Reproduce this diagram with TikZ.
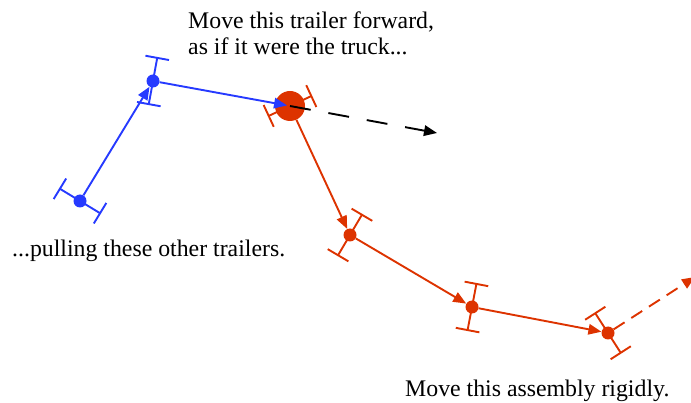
\documentclass[tikz,border=0pt]{standalone}
\usepackage{fontspec}
\setmainfont{Liberation Serif}
\usetikzlibrary{calc,arrows.meta}
\definecolor{tblue}{RGB}{38,58,255}
\definecolor{tred}{RGB}{221,51,0}
\newcommand{\trailaxle}[3]{%
  \draw[axle,#1] ($(#2)!23.5pt!90:(#3)$) -- ($(#2)!23.5pt!-90:(#3)$);
  \draw[axle,#1] ($(#2)!26.39pt!62.95:(#3)$) -- ($(#2)!26.39pt!117.05:(#3)$);
  \draw[axle,#1] ($(#2)!26.39pt!-62.95:(#3)$) -- ($(#2)!26.39pt!-117.05:(#3)$);
}
\begin{document}
\begin{tikzpicture}[x=1pt,y=-1pt,
  font=\fontsize{23.8}{27}\selectfont,
  dot/.style={circle, inner sep=0pt, minimum size=13pt, fill},
  link/.style={line width=1.9pt, -{Triangle[length=13pt,width=10.5pt]}},
  axle/.style={line width=1.9pt},
  lbl/.style={anchor=base west, inner sep=0pt}]
\useasboundingbox (0,0) rectangle (691,403);
\node[dot,tblue] (A) at (80,201) {};
\node[dot,tblue] (B) at (153,81) {};
\node[dot,tred,minimum size=30pt] (C) at (290,106) {};
\node[dot,tred] (D) at (350,235) {};
\node[dot,tred] (E) at (472,307) {};
\node[dot,tred] (F) at (608,333) {};
\coordinate (G) at (695,277);
\coordinate (H) at (437,133);
\trailaxle{tblue}{A}{B}
\trailaxle{tblue}{B}{C}
\trailaxle{tred}{C}{D}
\trailaxle{tred}{D}{E}
\trailaxle{tred}{E}{F}
\trailaxle{tred}{F}{G}
\draw[link,tblue] (A) -- (B);
\draw[link,tred] (C) -- (D);
\draw[link,tred] (D) -- (E);
\draw[link,tred] (E) -- (F);
\draw[link,tred,dash pattern=on 13pt off 8pt] (F) -- (G);
\draw[link,tblue,shorten >=3pt] (B) -- (C.center);
\draw[link,black,dash pattern=on 21pt off 18pt] (C.center) -- (H);
\node[lbl] (t1) at (188,28.3) {Move this trailer forward,};
\node[lbl] (t2) at (188,55) {as if it were the truck...};
\node[lbl] (t3) at (12,257) {...pulling these other trailers.};
\node[lbl] (t4) at (405,396.5) {Move this assembly rigidly.};
\end{tikzpicture}
\end{document}
